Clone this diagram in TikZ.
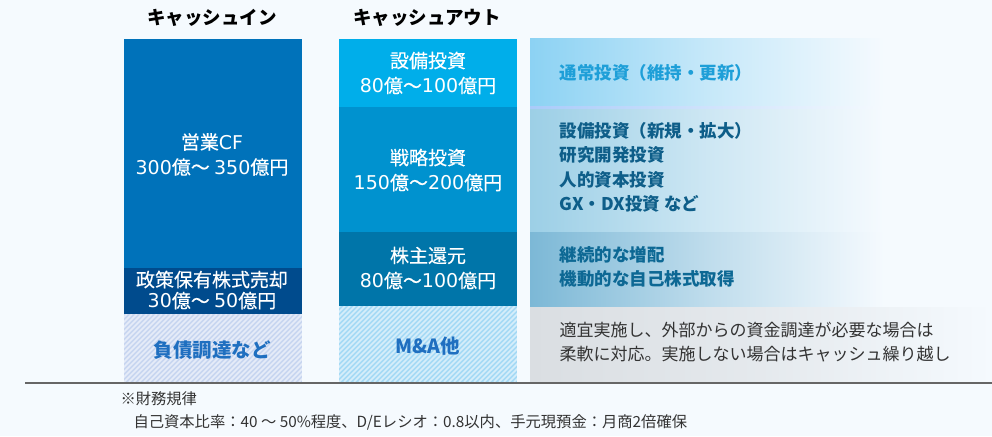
\documentclass[tikz,border=0pt]{standalone}
\usepackage{fontspec}
\setmainfont{Noto Sans CJK JP}
\newfontfamily\medfont{Noto Sans CJK JP}[FakeBold=0.35]
\newfontfamily\numf{DejaVu Sans}
\newcommand{\dg}[1]{{\numf #1}}
\definecolor{bg}{RGB}{245,250,254}
\definecolor{cfblue}{RGB}{0,114,186}
\definecolor{cfdark}{RGB}{0,75,141}
\definecolor{hatchL}{RGB}{200,214,240}
\definecolor{hatchM}{RGB}{166,218,245}
\definecolor{capex}{RGB}{0,174,234}
\definecolor{strat}{RGB}{0,146,207}
\definecolor{share}{RGB}{0,117,169}
\definecolor{rowA}{RGB}{140,210,243}
\definecolor{rowB}{RGB}{156,207,230}
\definecolor{rowC}{RGB}{124,184,214}
\definecolor{rowD}{RGB}{218,222,226}
\definecolor{txtA}{RGB}{30,159,216}
\definecolor{txtB}{RGB}{14,94,137}
\definecolor{txtC}{RGB}{13,104,148}
\definecolor{txtD}{RGB}{51,51,51}
\definecolor{hatchtxt}{RGB}{31,111,192}
\tikzset{
  colbox/.style={draw=none,minimum width=178pt,inner sep=0pt,outer sep=0pt,anchor=north west},
  wtxt/.style={text=white,align=center,font=\medfont\fontsize{19}{25}\selectfont},
  htxt/.style={text=hatchtxt,font=\bfseries\fontsize{19.5}{25}\selectfont},
  rtxt/.style={anchor=west,align=left,font=\bfseries\fontsize{17.5}{24.5}\selectfont},
  headtxt/.style={font=\bfseries\fontsize{18.5}{22}\selectfont,text=black},
  foot/.style={anchor=west,font=\fontsize{15.3}{17}\selectfont,text=txtD}
}
\newcommand{\hatchrect}[5]{% x1 y1 x2 y2 base
  \fill[#5] (#1,#2) rectangle (#3,#4);
  \begin{scope}
    \clip (#1,#2) rectangle (#3,#4);
    \pgfmathsetmacro{\hh}{#4-#2}
    \foreach \i in {-100,-95,...,200}
      \draw[white,opacity=0.55,line width=1.6pt] ({#1+\i},#4) -- ++(\hh,-\hh);
  \end{scope}}
\begin{document}
\begin{tikzpicture}[x=1pt,y=-1pt]
\useasboundingbox (0,0) rectangle (992,436);
\fill[bg] (0,0) rectangle (992,436);

% right-hand gradient rows
\shade[left color=rowA,right color=bg,middle color=rowA!45!bg] (530,39) rectangle (884,107);
\shade[left color=rowB,right color=bg,middle color=rowB!45!bg] (530,107) rectangle (884,232);
\shade[left color=rowC,right color=bg,middle color=rowC!45!bg] (530,232) rectangle (884,307);
\shade[left color=rowD,right color=bg,middle color=rowD!60!bg] (530,307) rectangle (992,382);
\shade[left color=rowA!80!blue!60!white,right color=bg] (530,106.5) rectangle (884,108);

% left column
\node[colbox,fill=cfblue,minimum height=229pt] (opcf) at (124,39) {};
\node[colbox,fill=cfdark,minimum height=46pt] (sell) at (124,268) {};
\hatchrect{124}{314}{302}{382}{hatchL}

% middle column
\node[colbox,fill=capex,minimum height=68pt] (capexbox) at (339,39) {};
\node[colbox,fill=strat,minimum height=125pt] (stratbox) at (339,107) {};
\node[colbox,fill=share,minimum height=74pt] (sharebox) at (339,232) {};
\hatchrect{339}{306}{517}{382}{hatchM}

% headers
\node[headtxt] (hin) at (212,18) {キャッシュイン};
\node[headtxt] (hout) at (427,18) {キャッシュアウト};

% column texts
\node[wtxt] (t1) at (212,154.5) {営業\dg{CF}\\\dg{300}億～ \dg{350}億円};
\node[wtxt,font=\medfont\fontsize{19}{21}\selectfont] (t2) at (212,290) {政策保有株式売却\\\dg{30}億～ \dg{50}億円};
\node[htxt] (t3) at (212,350) {負債調達など};
\node[wtxt] (t4) at (428,73) {設備投資\\\dg{80}億～\dg{100}億円};
\node[wtxt] (t5) at (428,170) {戦略投資\\\dg{150}億～\dg{200}億円};
\node[wtxt] (t6) at (428,268) {株主還元\\\dg{80}億～\dg{100}億円};
\node[htxt] (t7) at (428,346) {M\&A他};

% right texts
\node[rtxt,text=txtA] (r1) at (556,73) {通常投資（維持・更新）};
\node[rtxt,text=txtB] (r2) at (556,167.5) {設備投資（新規・拡大）\\研究開発投資\\人的資本投資\\GX・DX投資 など};
\node[rtxt,text=txtC] (r3) at (556,267) {継続的な増配\\機動的な自己株式取得};
\node[rtxt,text=txtD,font=\fontsize{17}{24.5}\selectfont] (r4) at (556,342) {適宜実施し、外部からの資金調達が必要な場合は\\柔軟に対応。実施しない場合はキャッシュ繰り越し};

% base line
\coordinate (lineL) at (25,383);
\coordinate (lineR) at (992,383);
\draw[line width=1.2pt,color=black!60] (lineL) -- (lineR);

% footnote
\node[foot] (f1) at (117,399) {※財務規律};
\node[foot] (f2) at (130,422) {自己資本比率：40 ～ 50\%程度、D/Eレシオ：0.8以内、手元現預金：月商2倍確保};
\end{tikzpicture}
\end{document}
